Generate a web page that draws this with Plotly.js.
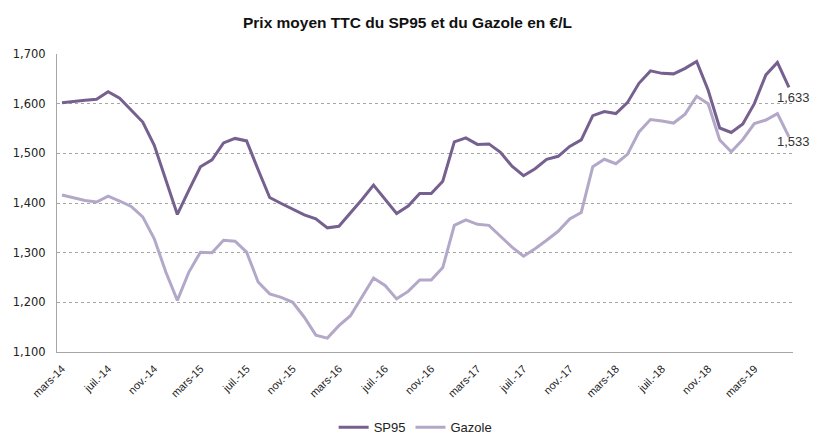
<!DOCTYPE html>
<html>
<head>
<meta charset="utf-8">
<script src="https://cdn.plot.ly/plotly-3.0.1.min.js"></script>
<style>html,body{margin:0;padding:0;background:#fff;}#chart{width:815px;height:436px;}</style>
</head>
<body>
<div id="chart"></div>
<script>
const months = [
  "mars-14","avr.-14","mai-14","juin-14","juil.-14","août-14","sept.-14","oct.-14","nov.-14","déc.-14",
  "janv.-15","févr.-15","mars-15","avr.-15","mai-15","juin-15","juil.-15","août-15","sept.-15","oct.-15","nov.-15","déc.-15",
  "janv.-16","févr.-16","mars-16","avr.-16","mai-16","juin-16","juil.-16","août-16","sept.-16","oct.-16","nov.-16","déc.-16",
  "janv.-17","févr.-17","mars-17","avr.-17","mai-17","juin-17","juil.-17","août-17","sept.-17","oct.-17","nov.-17","déc.-17",
  "janv.-18","févr.-18","mars-18","avr.-18","mai-18","juin-18","juil.-18","août-18","sept.-18","oct.-18","nov.-18","déc.-18",
  "janv.-19","févr.-19","mars-19","avr.-19","mai-19","juin-19"
];
const sp95 = [
  1.602,1.605,1.607,1.609,1.624,1.611,1.587,1.563,1.516,1.446,
  1.377,1.426,1.473,1.487,1.521,1.530,1.525,1.467,1.411,1.399,1.387,1.376,
  1.368,1.350,1.353,1.379,1.407,1.436,1.407,1.379,1.394,1.419,1.419,1.444,
  1.523,1.531,1.518,1.519,1.502,1.474,1.455,1.469,1.488,1.494,1.514,1.527,
  1.576,1.584,1.580,1.602,1.641,1.666,1.661,1.660,1.671,1.685,1.627,1.551,
  1.542,1.559,1.600,1.658,1.683,1.633
];
const gazole = [
  1.416,1.410,1.405,1.402,1.414,1.404,1.393,1.372,1.328,1.261,
  1.204,1.261,1.301,1.300,1.325,1.323,1.301,1.241,1.217,1.210,1.200,1.170,
  1.134,1.128,1.153,1.173,1.210,1.249,1.234,1.207,1.222,1.245,1.245,1.270,
  1.355,1.366,1.357,1.355,1.333,1.311,1.293,1.308,1.325,1.343,1.368,1.381,
  1.473,1.488,1.479,1.498,1.543,1.568,1.565,1.561,1.579,1.615,1.600,1.527,
  1.503,1.528,1.560,1.567,1.580,1.533
];
const tickLabels = ["mars-14","juil.-14","nov.-14","mars-15","juil.-15","nov.-15","mars-16","juil.-16","nov.-16","mars-17","juil.-17","nov.-17","mars-18","juil.-18","nov.-18","mars-19"];
const yTicks = [1.1,1.2,1.3,1.4,1.5,1.6,1.7];

const cSP = "#76608f";
const cGz = "#b4a8c9";
const lastSP = sp95[sp95.length-1];
const lastGz = gazole[gazole.length-1];
const lastM = months[months.length-1];

const traces = [
  {x: months, y: sp95, type: "scatter", mode: "lines", name: "SP95", line: {color: cSP, width: 3}},
  {x: months, y: gazole, type: "scatter", mode: "lines", name: "Gazole", line: {color: cGz, width: 3}}
];

const layout = {
  width: 815, height: 436,
  margin: {l: 57, r: 22, t: 54, b: 84},
  paper_bgcolor: "#fff", plot_bgcolor: "#fff",
  separators: ", ",
  font: {family: "DejaVu Sans, sans-serif", size: 10, color: "#222"},
  title: {text: "<b>Prix moyen TTC du SP95 et du Gazole en €/L</b>", x: 0.5, xanchor: "center", y: 0.948, yanchor: "middle",
          font: {family: "Liberation Sans, Arial, sans-serif", size: 15.5, color: "#111"}},
  xaxis: {
    type: "category", categoryorder: "array", categoryarray: months,
    range: [-0.43, months.length - 1 + 0.35], automargin: false,
    tickmode: "array", tickvals: tickLabels, ticktext: tickLabels,
    tickangle: -45, showgrid: false, zeroline: false,
    showline: true, linecolor: "#a6a6a6", linewidth: 1,
    ticks: "outside", ticklen: 5, tickcolor: "rgba(0,0,0,0)",
    tickfont: {family: "Liberation Sans, Arial, sans-serif", size: 11, color: "#222"}
  },
  yaxis: {
    range: [1.1, 1.7], tickmode: "array", tickvals: yTicks, tickformat: ".3f", automargin: false,
    showgrid: true, gridcolor: "#a6a6a6", griddash: "dot", gridwidth: 1,
    showline: true, linecolor: "#a6a6a6", linewidth: 1, zeroline: false,
    ticks: "outside", ticklen: 8, tickcolor: "rgba(0,0,0,0)",
    tickfont: {family: "DejaVu Sans, sans-serif", size: 11.5, color: "#222"}
  },
  showlegend: true,
  legend: {orientation: "h", x: 0.51, xanchor: "center", xref: "container", y: 0.02, yanchor: "middle", yref: "container",
           font: {family: "Liberation Sans, Arial, sans-serif", size: 13, color: "#222"}, itemwidth: 30},
  annotations: [
    {x: lastM, y: lastSP, xref: "x", yref: "y", text: "", showarrow: false, xanchor: "left", yanchor: "top", xshift: -14, yshift: -1,
     font: {family: "Liberation Sans, Arial, sans-serif", size: 13, color: "#333"}},
    {x: lastM, y: lastGz, xref: "x", yref: "y", text: "", showarrow: false, xanchor: "left", yanchor: "top", xshift: -14, yshift: 5,
     font: {family: "Liberation Sans, Arial, sans-serif", size: 13, color: "#333"}}
  ]
};
layout.annotations[0].text = lastSP.toFixed(3).replace(".", ",");
layout.annotations[1].text = lastGz.toFixed(3).replace(".", ",");

Plotly.newPlot("chart", traces, layout, {displayModeBar: false, staticPlot: true});
</script>
</body>
</html>
